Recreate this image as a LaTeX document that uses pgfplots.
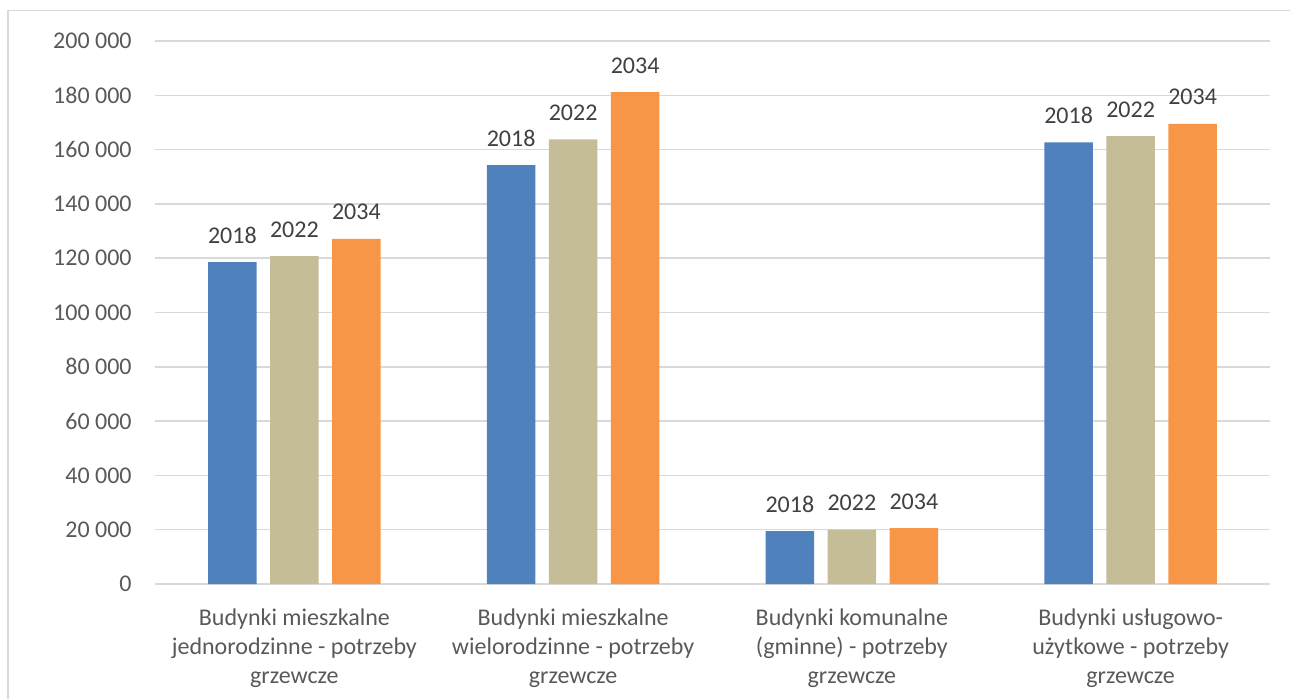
\documentclass[border=0pt]{standalone}
\usepackage{pgfplots}
\pgfplotsset{compat=1.18}
\usepackage{fontspec}
\setmainfont{Carlito}
\definecolor{cblue}{HTML}{4F81BD}
\definecolor{cbeige}{HTML}{C4BD97}
\definecolor{corange}{HTML}{F79646}
\definecolor{gridc}{HTML}{D9D9D9}
\definecolor{tickc}{HTML}{595959}
\definecolor{labc}{HTML}{404040}
\begin{document}
\begin{tikzpicture}
\fontsize{12bp}{14.5bp}\selectfont
\path[use as bounding box] (0,0) rectangle (645bp,-349.5bp);
\draw[gridc, line width=0.75bp] (4bp,-349.5bp) -- (4bp,-5.25bp) -- (645bp,-5.25bp);
\begin{axis}[
  at={(77.5bp,-292bp)}, anchor=south west,
  scale only axis, width=557.5bp, height=271.5bp,
  xmin=-0.5, xmax=3.5, ymin=0, ymax=200000,
  scaled y ticks=false,
  ybar=6.75bp, bar width=24.25bp,
  axis line style={draw=none},
  major tick length=0pt,
  ymajorgrids, grid style={gridc, line width=0.75bp},
  ytick={0,20000,...,200000},
  yticklabels={0,20 000,40 000,60 000,80 000,100 000,120 000,140 000,160 000,180 000,200 000},
  yticklabel style={text=tickc, anchor=east, inner sep=0pt, xshift=-11.5bp, font=\fontsize{12bp}{14.5bp}\selectfont},
  xtick={0,1,2,3},
  xticklabels={{Budynki mieszkalne\\jednorodzinne - potrzeby\\grzewcze},{Budynki mieszkalne\\wielorodzinne - potrzeby\\grzewcze},{Budynki komunalne\\(gminne) - potrzeby\\grzewcze},{Budynki usługowo-\\użytkowe - potrzeby\\grzewcze}},
  xticklabel style={text=tickc, align=center, anchor=north, inner sep=0pt, yshift=-12bp, font=\fontsize{12bp}{14.5bp}\selectfont},
  nodes near coords style={text=labc, anchor=base, inner sep=0pt, yshift=9.5bp, font=\fontsize{12bp}{14.5bp}\selectfont},
  every axis plot/.append style={draw=none},
]
\addplot[fill=cblue, nodes near coords={2018}] coordinates {(0,118600) (1,154300) (2,19500) (3,162700)};
\addplot[fill=cbeige, nodes near coords={2022}] coordinates {(0,120800) (1,163800) (2,20000) (3,165000)};
\addplot[fill=corange, nodes near coords={2034}] coordinates {(0,127100) (1,181200) (2,20600) (3,169500)};
\end{axis}
\end{tikzpicture}
\end{document}
